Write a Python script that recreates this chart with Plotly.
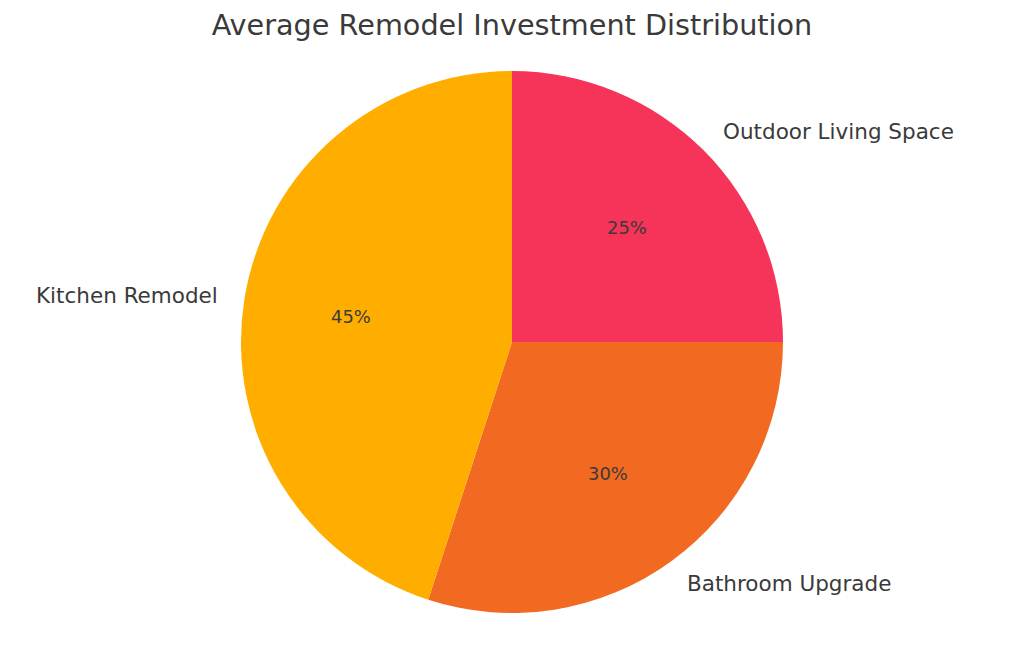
import math
import plotly.graph_objects as go

categories = ["Kitchen Remodel", "Bathroom Upgrade", "Outdoor Living Space"]
shares = [45, 30, 25]
colors = ["#FFAE00", "#F26A21", "#F63358"]

W, H = 1024, 653
cx, cy, r = 512, 342, 271  # pie centre and radius in pixels

# matplotlib-style: start at 12 o'clock, counterclockwise -> draw reversed order clockwise
fig = go.Figure(go.Pie(
    labels=categories[::-1],
    values=shares[::-1],
    sort=False,
    direction="clockwise",
    rotation=0,
    textinfo="none",
    hoverinfo="label+percent",
    marker=dict(colors=colors[::-1], line=dict(width=0)),
    domain=dict(x=[(cx - r) / W, (cx + r) / W], y=[1 - (cy + r) / H, 1 - (cy - r) / H]),
    showlegend=False,
))

total = sum(shares)
start = 90.0
annotations = []
for cat, val in zip(categories, shares):
    span = 360.0 * val / total
    mid = math.radians(start + span / 2)
    start += span
    lx = cx + 1.1 * r * math.cos(mid)
    ly = cy - 1.1 * r * math.sin(mid)
    right_side = math.cos(mid) > 0
    annotations.append(dict(
        x=lx / W, y=1 - ly / H, xref="paper", yref="paper",
        text=cat, showarrow=False,
        xanchor="left" if right_side else "right", yanchor="middle",
        xshift=-2 if right_side else 2,
        font=dict(family="DejaVu Sans", size=21.5, color="#3a3a3a"),
    ))
    px = cx + 0.6 * r * math.cos(mid)
    py = cy - 0.6 * r * math.sin(mid)
    annotations.append(dict(
        x=px / W, y=1 - py / H, xref="paper", yref="paper",
        text=f"{val / total * 100:.0f}%", showarrow=False,
        xanchor="center", yanchor="middle",
        font=dict(family="DejaVu Sans", size=17.9, color="#3a3a3a"),
    ))

fig.update_layout(
    width=W, height=H,
    margin=dict(l=0, r=0, t=0, b=0),
    paper_bgcolor="white",
    plot_bgcolor="white",
    title=dict(
        text="Average Remodel Investment Distribution",
        x=0.5, xanchor="center", y=1 - 25 / H, yanchor="middle",
        font=dict(family="DejaVu Sans", size=28.7, color="#3a3a3a"),
    ),
    annotations=annotations,
)

fig.write_html("out.html", config={"displayModeBar": False},
               post_script="document.body.style.margin='0';")
